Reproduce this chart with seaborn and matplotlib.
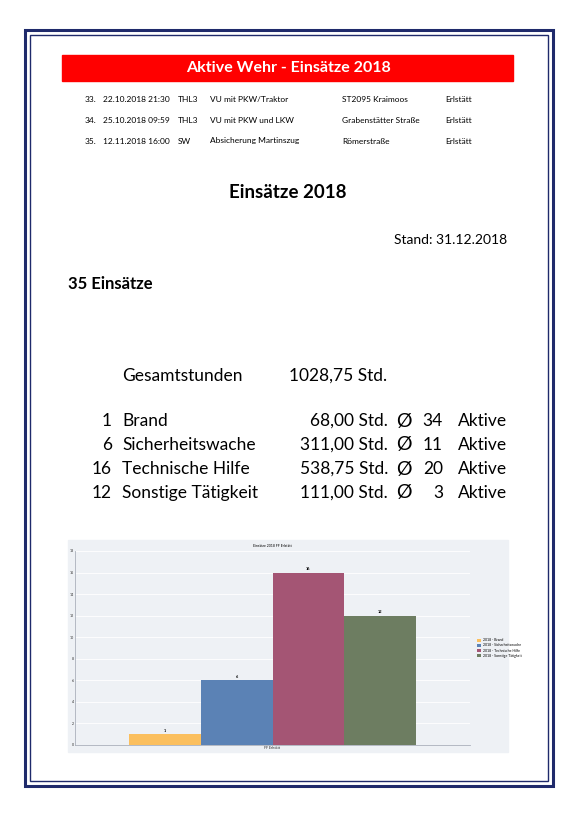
import matplotlib
matplotlib.use("Agg")
import matplotlib.pyplot as plt
import seaborn as sns
import pandas as pd
from matplotlib.patches import Rectangle

categories = ["2018 - Brand", "2018 - Sicherheitswache", "2018 - Technische Hilfe", "2018 - Sonstige Tätigkeit"]
values = [1, 6, 16, 12]
colors = ["#fbbf5e", "#5b82b5", "#a45574", "#6d7d61"]
group = ["FF Erlstätt"]

rows = [("33.", "22.10.2018 21:30", "THL3", "VU mit PKW/Traktor", "ST2095 Kraimoos", "Erlstätt"),
        ("34.", "25.10.2018 09:59", "THL3", "VU mit PKW und LKW", "Grabenstätter Straße", "Erlstätt"),
        ("35.", "12.11.2018 16:00", "SW", "Absicherung Martinszug", "Römerstraße", "Erlstätt")]
summary = [("1", "Brand", "68,00 Std.", "34"),
           ("6", "Sicherheitswache", "311,00 Std.", "11"),
           ("16", "Technische Hilfe", "538,75 Std.", "20"),
           ("12", "Sonstige Tätigkeit", "111,00 Std.", "3")]

sns.set_theme(style="white")
plt.rcParams['font.family'] = ['Lato', 'DejaVu Sans']
plt.rcParams['text.color'] = 'black'
W, H = 576, 815
fig = plt.figure(figsize=(W/100, H/100), dpi=100)
fig.patch.set_facecolor("white")

def X(x): return x / W
def Y(y): return 1 - y / H

navy = "#1f2a6b"
fig.add_artist(Rectangle((X(25), Y(786)), X(528), 756/H, fill=False, ec=navy, lw=2.2, transform=fig.transFigure))
fig.add_artist(Rectangle((X(30), Y(781)), X(518), 746/H, fill=False, ec=navy, lw=1.0, transform=fig.transFigure))

fig.add_artist(Rectangle((X(62), Y(81)), X(451), 26/H, color="#ff0000", transform=fig.transFigure))
fig.text(X(288), Y(68), "Aktive Wehr - Einsätze 2018", color="white", fontsize=11.5, fontweight="bold", ha="center", va="center")
cols = [85, 103, 178, 210, 342, 445]
for i, r in enumerate(rows):
    for cx, t in zip(cols, r):
        fig.text(X(cx), Y(100 + i * 20.5), t, fontsize=6, ha="left", va="center")

fig.text(X(288), Y(193), "Einsätze 2018", fontsize=13.5, fontweight="bold", ha="center", va="center")
fig.text(X(507), Y(240), "Stand: 31.12.2018", fontsize=10, ha="right", va="center")
fig.text(X(68), Y(284), "35 Einsätze", fontsize=12, fontweight="bold", ha="left", va="center")
fig.text(X(122), Y(376), "Gesamtstunden", fontsize=12.5, ha="left", va="center")
fig.text(X(289), Y(376), "1028,75 Std.", fontsize=12.5, ha="left", va="center")
for i, (n, lab, hrs, act) in enumerate(summary):
    y = Y(421 + i * 24)
    fig.text(X(112), y, n, fontsize=12.5, ha="right", va="center")
    fig.text(X(122), y, lab, fontsize=12.5, ha="left", va="center")
    fig.text(X(388), y, hrs, fontsize=12.5, ha="right", va="center")
    fig.text(X(404), y, "Ø", fontsize=14, ha="center", va="center")
    fig.text(X(443), y, act, fontsize=12.5, ha="right", va="center")
    fig.text(X(458), y, "Aktive", fontsize=12.5, ha="left", va="center")

fig.add_artist(Rectangle((X(68), Y(752)), X(440), 212/H, color="#eef1f5", transform=fig.transFigure, zorder=-5))
ax = fig.add_axes([X(75), Y(745), X(395), 194/H])
ax.set_facecolor("#eef1f5")
df = pd.DataFrame({"g": group * len(values), "cat": categories, "v": values})
sns.barplot(data=df, x="g", y="v", hue="cat", palette=colors, ax=ax, width=0.8, gap=0,
            saturation=1, linewidth=0, legend=True)
ax.set_xlim(-0.55, 0.55)
ax.set_ylim(0, 18)
ax.set_yticks(range(0, 19, 2))
ax.tick_params(labelsize=2.5, length=0, pad=1)
ax.grid(axis="y", color="white", lw=0.6)
ax.set_axisbelow(True)
for s in ["top", "right"]:
    ax.spines[s].set_visible(False)
for s in ["left", "bottom"]:
    ax.spines[s].set_color("#aab0bb"); ax.spines[s].set_linewidth(0.6)
ax.set_xlabel(""); ax.set_ylabel("")
ax.set_title("Einsätze 2018 FF Erlstätt", fontsize=2.5, pad=3)
for c in ax.containers:
    ax.bar_label(c, fontsize=2.8, fontweight="bold", padding=1)
ax.legend(loc="center left", bbox_to_anchor=(1.01, 0.5), fontsize=2.5, frameon=False,
          handlelength=1.0, handleheight=1.0, labelspacing=0.3)
fig.savefig("out.png", dpi=100)
